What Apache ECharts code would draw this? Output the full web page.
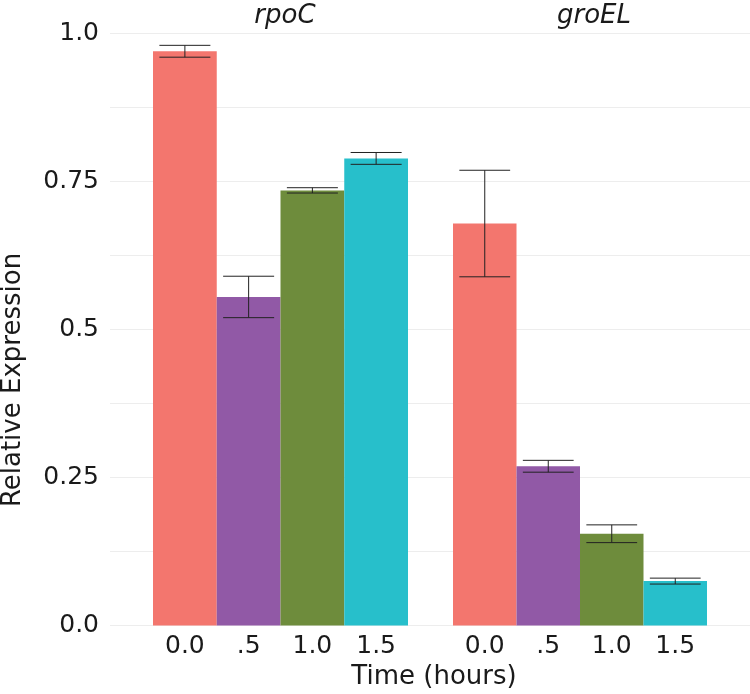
<!DOCTYPE html>
<html>
<head>
<meta charset="utf-8">
<script src="https://cdn.jsdelivr.net/npm/echarts@6/dist/echarts.min.js"></script>
<style>
html,body{margin:0;padding:0;background:#fff;}
#chart{width:750px;height:694px;}
</style>
</head>
<body>
<div id="chart"></div>
<script>
const categories = ['0.0', '.5', '1.0', '1.5'];
const panelTitles = ['rpoC', 'groEL'];
const rpocValues = [0.970, 0.555, 0.735, 0.789];
const rpocErrors = [0.010, 0.035, 0.0045, 0.010];
const groelValues = [0.679, 0.269, 0.155, 0.075];
const groelErrors = [0.090, 0.010, 0.015, 0.005];
const barColors = ['#F3766E', '#9159A6', '#6E8C3C', '#27BFCB'];
const yTickLabels = {0: '0.0', 0.25: '0.25', 0.5: '0.5', 0.75: '0.75', 1: '1.0'};
const yAxisTitle = 'Relative Expression';
const xAxisTitle = 'Time (hours)';

const FONT = 'DejaVu Sans';
const TOP = 33.5, BOTTOM = 68.5;

const chart = echarts.init(document.getElementById('chart'), null, {renderer: 'canvas'});

function barSeries(values, idx) {
  return {
    type: 'bar', xAxisIndex: idx, yAxisIndex: idx,
    barCategoryGap: '0%', barWidth: '100%',
    data: values.map((v, i) => ({value: v, itemStyle: {color: barColors[i]}})),
    silent: true, z: 2
  };
}
function errSeries(values, errs, idx) {
  return {
    type: 'custom', xAxisIndex: idx, yAxisIndex: idx, z: 5, silent: true,
    data: values.map((v, i) => [i, v, errs[i]]),
    renderItem: function (params, api) {
      const x = api.value(0), v = api.value(1), e = api.value(2);
      const hi = api.coord([x, v + e]);
      const lo = api.coord([x, v - e]);
      const w = api.size([1, 0])[0] * 0.8;
      const style = {stroke: '#222', lineWidth: 1, fill: null};
      return {
        type: 'group',
        children: [
          {type: 'line', shape: {x1: hi[0], y1: hi[1], x2: lo[0], y2: lo[1]}, style: style},
          {type: 'line', shape: {x1: hi[0] - w / 2, y1: hi[1], x2: hi[0] + w / 2, y2: hi[1]}, style: style},
          {type: 'line', shape: {x1: lo[0] - w / 2, y1: lo[1], x2: lo[0] + w / 2, y2: lo[1]}, style: style}
        ]
      };
    }
  };
}

const hiddenY = {type: 'value', min: 0, max: 1, show: false};
function catX(idx) {
  return {
    type: 'category', gridIndex: idx, data: categories,
    axisLine: {show: false}, axisTick: {show: false},
    axisLabel: {fontFamily: FONT, fontSize: 25, color: '#1a1a1a', margin: 8}
  };
}

const option = {
  animation: false,
  backgroundColor: '#ffffff',
  grid: [
    {left: 110, right: 0, top: TOP, bottom: BOTTOM},
    {left: 153, width: 255, top: TOP, bottom: BOTTOM},
    {left: 453, width: 254, top: TOP, bottom: BOTTOM}
  ],
  xAxis: [
    {type: 'value', gridIndex: 0, show: false, min: 0, max: 1},
    catX(1), catX(2)
  ],
  yAxis: [
    {
      type: 'value', gridIndex: 0, min: 0, max: 1, interval: 0.25,
      axisLine: {show: false}, axisTick: {show: false},
      axisLabel: {
        fontFamily: FONT, fontSize: 25, color: '#1a1a1a', margin: 11,
        formatter: v => yTickLabels[v] !== undefined ? yTickLabels[v] : ''
      },
      splitLine: {show: true, lineStyle: {color: '#EDEDED', width: 1}},
      minorTick: {show: false, splitNumber: 2},
      minorSplitLine: {show: true, lineStyle: {color: '#EDEDED', width: 1}}
    },
    Object.assign({gridIndex: 1}, hiddenY),
    Object.assign({gridIndex: 2}, hiddenY)
  ],
  series: [
    barSeries(rpocValues, 1), errSeries(rpocValues, rpocErrors, 1),
    barSeries(groelValues, 2), errSeries(groelValues, groelErrors, 2)
  ],
  graphic: [
    {type: 'text', x: 285, y: 16, style: {text: panelTitles[0], font: 'italic 26px "DejaVu Sans"', fill: '#1a1a1a', textAlign: 'center', textVerticalAlign: 'middle'}},
    {type: 'text', x: 594, y: 16, style: {text: panelTitles[1], font: 'italic 26px "DejaVu Sans"', fill: '#1a1a1a', textAlign: 'center', textVerticalAlign: 'middle'}},
    {type: 'text', x: 434, y: 677, style: {text: xAxisTitle, font: '26px "DejaVu Sans"', fill: '#1a1a1a', textAlign: 'center', textVerticalAlign: 'middle'}},
    {type: 'text', x: 13, y: 380, rotation: Math.PI / 2, style: {text: yAxisTitle, font: '26px "DejaVu Sans"', fill: '#1a1a1a', textAlign: 'center', textVerticalAlign: 'middle'}}
  ]
};
chart.setOption(option);
</script>
</body>
</html>
